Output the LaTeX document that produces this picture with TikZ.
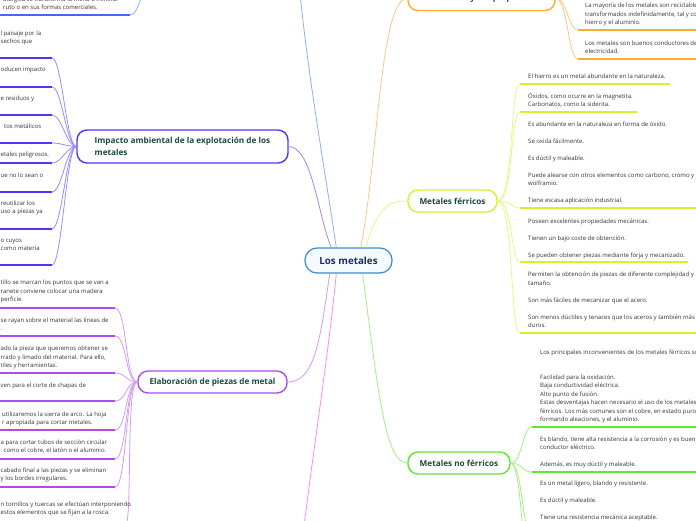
\documentclass[tikz,border=0pt]{standalone}
\usepackage{fontspec}
\setmainfont{Open Sans}
\definecolor{txtc}{HTML}{333333}
\definecolor{catc}{HTML}{1B4A3C}
\definecolor{cenc}{HTML}{1B2F5E}
\definecolor{cenb}{HTML}{3A8AD4}
\definecolor{cenf}{HTML}{F5FAFF}
\definecolor{orb}{HTML}{FFAA33}
\definecolor{orl}{HTML}{FFC585}
\definecolor{yeb}{HTML}{D8F030}
\definecolor{yel}{HTML}{E6F78A}
\definecolor{grb}{HTML}{5EE633}
\definecolor{grl}{HTML}{A3F083}
\definecolor{lib}{HTML}{B04AF0}
\definecolor{lil}{HTML}{D39BF7}
\definecolor{inb}{HTML}{5533F5}
\definecolor{inl}{HTML}{9A8AFF}
\definecolor{blb}{HTML}{4466FF}
\definecolor{bll}{HTML}{8FAEFF}
\definecolor{pkl}{HTML}{FF8CEE}
\newcommand\bodyfont{\fontsize{6.0}{8.5}\selectfont}
\newcommand\catfont{\fontsize{8.2}{11.5}\selectfont\bfseries}
\newcommand\cenfont{\fontsize{9.8}{12}\selectfont\bfseries}
\tikzset{
 body/.style={font=\bodyfont, text=txtc, align=left, inner sep=0pt, anchor=base west},
 cat/.style={draw, line width=1.4pt, rounded corners=10pt, fill=white, font=\catfont, text=catc, align=left, inner sep=0pt},
 ulY/.style={draw=yeb, line width=1.8pt},
 ulG/.style={draw=grb, line width=1.8pt},
 ulO/.style={draw=orb, line width=1.8pt},
 ulL/.style={draw=lib, line width=1.8pt},
 ulI/.style={draw=inb, line width=1.8pt},
 ulB/.style={draw=blb, line width=1.8pt},
 conY/.style={draw=yel, line width=0.8pt},
 conG/.style={draw=grl, line width=0.8pt},
 conO/.style={draw=orl, line width=0.8pt},
 conL/.style={draw=lil, line width=0.8pt},
 conI/.style={draw=inl, line width=0.8pt},
 conB/.style={draw=bll, line width=0.8pt},
 conP/.style={draw=pkl, line width=0.8pt},
}
\begin{document}
\begin{tikzpicture}[x=1pt,y=-1pt]
\useasboundingbox (0,0) rectangle (696,520);
\clip (0,0) rectangle (696,520);

% ---------- free-end coordinates and underline anchors ----------
\coordinate (blueup) at (298,-30);
\coordinate (pinkdown) at (300,560);
\coordinate (bpar) at (146,-30);
\coordinate (bta) at (130,15);
% yellow
\coordinate (fau) at (520,84);
\coordinate (fbu) at (520,112);
\coordinate (fcu) at (520,208);
\coordinate (fdu) at (520,262);
\coordinate (feu) at (520,333);
% green
\coordinate (gau) at (532,427);
\coordinate (gbu) at (532,472);
\coordinate (gcu) at (532,535);
\coordinate (gdu) at (532,580);
% orange
\coordinate (oau) at (578,30);
\coordinate (obu) at (578,59);
% impacto
\coordinate (iau) at (52,58);
\coordinate (ibu) at (52,87);
\coordinate (icu) at (52,115);
\coordinate (idu) at (52,143);
\coordinate (ieu) at (52,163);
\coordinate (ifu) at (52,192);
\coordinate (igu) at (52,229);
\coordinate (ihu) at (52,265);
% elaboracion
\coordinate (eau) at (115,308);
\coordinate (ebu) at (115,336);
\coordinate (ecu) at (115,373);
\coordinate (edu) at (115,401);
\coordinate (eeu) at (115,430);
\coordinate (efu) at (115,459);
\coordinate (egu) at (115,487);
\coordinate (ehu) at (125,526);

% ---------- main nodes ----------
\node[draw=cenb, fill=cenf, line width=1.2pt, rounded corners=12pt, minimum width=87pt, minimum height=25pt, font=\cenfont, text=cenc, inner sep=0pt] (root) at (348.5,260.5) {Los metales};
\node[cat, draw=inb, minimum width=211pt, minimum height=33pt] (imp) at (182.5,146.5) {Impacto ambiental de la explotación de los\\metales};
\node[cat, draw=lib, minimum width=149pt, minimum height=22pt] (ela) at (212.5,382) {Elaboración de piezas de metal};
\node[cat, draw=yeb, minimum width=89pt, minimum height=22pt] (fer) at (452.5,201) {Metales férricos};
\node[cat, draw=grb, minimum width=102pt, minimum height=22pt] (nof) at (459,463) {Metales no férricos};
\node[cat, draw=orb, minimum width=147pt, minimum height=24pt] (pro) at (481.5,-1.5) {Los metales y sus propiedades};

% ---------- connectors from root ----------
\draw[conB] (root.133) .. controls (325,170) and (305,60) .. (blueup);
\draw[conI] (root.143) .. controls (318,215) and (312,147) .. (imp.east);
\draw[conO] (root.47) .. controls (378,160) and (380,-2) .. (pro.west);
\draw[conY] (root.37) .. controls (378,205) and (390,201) .. (fer.west);
\draw[conG] (root.317) .. controls (378,390) and (385,463) .. (nof.west);
\draw[conL] (root.215) .. controls (320,340) and (315,382) .. (ela.east);
\draw[conP] (root.227) .. controls (328,360) and (310,470) .. (pinkdown);

% ---------- blue (top-left) ----------
\draw[ulB] (bta) -- ++(-140,0);
\draw[conB] (bta) .. controls +(10,0) and +(-2,12) .. (bpar);
\node[body] (bt) at (3,9.5) {alúrgica se transforma la mena o mineral\\ruto o en sus formas comerciales.};

% ---------- orange ----------
\draw[ulO] (oau) -- ++(130,0);
\draw[ulO] (obu) -- ++(130,0);
\draw[conO] (pro.east) .. controls +(12,0) and +(-10,0) .. (oau);
\draw[conO] (pro.east) .. controls +(12,0) and +(-10,0) .. (obu);
\node[body] (oa) at (585,24.5) {La mayoría de los metales son reciclables, pueden ser\\transformados indefinidamente, tal y como ocurre con el\\hierro y el aluminio.};
\node[body] (ob) at (585,53.5) {Los metales son buenos conductores del calor y de la\\electricidad.};

% ---------- yellow ----------
\draw[ulY] (fau) -- ++(150,0);
\draw[ulY] (fbu) -- ++(117,0);
\draw[ulY] (fcu) -- ++(180,0);
\draw[ulY] (fdu) -- ++(168,0);
\draw[ulY] (feu) -- ++(180,0);
\foreach \c in {fau,fbu,fcu,fdu,feu}
  \draw[conY] (fer.east) .. controls +(16,0) and +(-10,0) .. (\c);
\node[body] (fa) at (528,78.5) {El hierro es un metal abundante en la naturaleza.};
\node[body] (fb) at (528,106.5) {Óxidos, como ocurre en la magnetita.\\Carbonatos, como la siderita.};
\node[body] (fc) at (528,202.5) {Es abundante en la naturaleza en forma de óxido.\\[8.5pt]Se oxida fácilmente.\\[8.5pt]Es dúctil y maleable.\\[8.5pt]Puede alearse con otros elementos como carbono, cromo y\\wolframio.\\[8.5pt]Tiene escasa aplicación industrial.};
\node[body] (fd) at (528,257.5) {Poseen excelentes propiedades mecánicas.\\[8.5pt]Tienen un bajo coste de obtención.\\[8.5pt]Se pueden obtener piezas mediante forja y mecanizado.};
\node[body] (fe) at (528,327.5) {Permiten la obtención de piezas de diferente complejidad y\\tamaño.\\[8.5pt]Son más fáciles de mecanizar que el acero.\\[8.5pt]Son menos dúctiles y tenaces que los aceros y también más\\duros.};

% ---------- green ----------
\draw[ulG] (gau) -- ++(170,0);
\draw[ulG] (gbu) -- ++(170,0);
\draw[ulG] (gcu) -- ++(170,0);
\foreach \c in {gau,gbu,gcu,gdu}
  \draw[conG] (nof.east) .. controls +(12,0) and +(-10,0) .. (\c);
\node[body] (ga) at (540,421.5) {Los principales inconvenientes de los metales férricos son:\\[16pt]Facilidad para la oxidación.\\Baja conductividad eléctrica.\\Alto punto de fusión.\\Estas desventajas hacen necesario el uso de los metales no\\férricos. Los más comunes son el cobre, en estado puro o\\formando aleaciones, y el aluminio.};
\node[body] (gb) at (540,466.5) {Es blando, tiene alta resistencia a la corrosión y es buen\\conductor eléctrico.\\[8.5pt]Además, es muy dúctil y maleable.};
\node[body] (gc) at (540,519) {Es un metal ligero, blando y resistente.\\[8.5pt]Es dúctil y maleable.\\[8.5pt]Tiene una resistencia mecánica aceptable.};

% ---------- impacto ----------
\foreach \c in {iau,ibu,icu,idu,ieu,ifu,igu,ihu}{
  \draw[ulI] (\c) -- ++(-60,0);
  \draw[conI] (imp.west) .. controls +(-10,0) and +(10,0) .. (\c);
}
\node[body] (ia) at (0.5,43.5) {l paisaje por la\\sechos que};
\node[body] (ib) at (0.5,71.5) {oducen impacto};
\node[body] (ic) at (0.5,100.5) {e residuos y};
\node[body] (id) at (4,128.5) {tos metálicos};
\node[body] (ie) at (0.5,156.5) {etales peligrosos.};
\node[body] (if) at (0.5,177.5) {ue no lo sean o};
\node[body] (ig) at (0.5,213.5) {reutilizar los\\uso a piezas ya};
\node[body] (ih) at (0.5,250.5) {o cuyos\\como materia};

% ---------- elaboracion ----------
\foreach \c in {eau,ebu,ecu,edu,eeu,efu,egu}{
  \draw[ulL] (\c) -- ++(-125,0);
  \draw[conL] (ela.west) .. controls +(-12,0) and +(12,0) .. (\c);
}
\draw[ulL] (ehu) -- ++(-135,0);
\draw[conL] (ela.west) .. controls +(-12,0) and +(8,0) .. (ehu);
\node[body] (ea) at (0.5,301.5) {tillo se marcan los puntos que se van a\\ranete conviene colocar una madera\\perficie.};
\node[body] (eb) at (0.5,330.5) {se rayan sobre el material las líneas de\\.};
\node[body] (ec) at (0.5,367.5) {ado la pieza que queremos obtener se\\rrado y limado del material. Para ello,\\tiles y herramientas.};
\node[body] (ed) at (0.5,387.5) {ven para el corte de chapas de};
\node[body] (ee) at (2,424.5) {utilizaremos la sierra de arco. La hoja\\r apropiada para cortar metales.};
\node[body] (ef) at (0.5,452.5) {a para cortar tubos de sección circular\\\hspace*{3pt}como el cobre, el latón o el aluminio.};
\node[body] (eg) at (0.5,480.5) {cabado final a las piezas y se eliminan\\y los bordes irregulares.};
\node[body] (eh) at (0.5,514.5) {n tornillos y tuercas se efectúan interponiendo\\estos elementos que se fijan a la rosca.};
\end{tikzpicture}
\end{document}
